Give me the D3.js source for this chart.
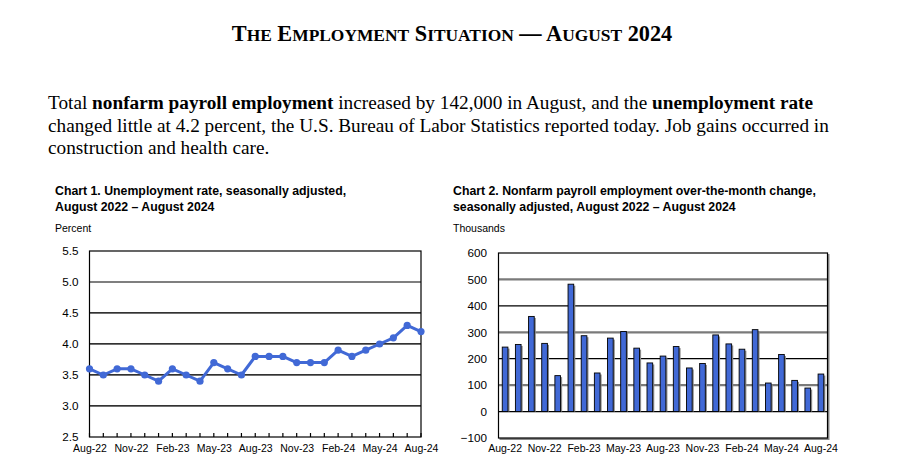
<!DOCTYPE html>
<html><head><meta charset="utf-8">
<script src="https://cdn.jsdelivr.net/npm/d3@7"></script>
<style>
html,body{margin:0;padding:0;background:#fff;}
svg{display:block;}
</style></head>
<body>
<svg id="c" width="905" height="467"></svg>
<script>
const months = ["Aug-22","Sep-22","Oct-22","Nov-22","Dec-22","Jan-23","Feb-23","Mar-23","Apr-23","May-23","Jun-23","Jul-23","Aug-23","Sep-23","Oct-23","Nov-23","Dec-23","Jan-24","Feb-24","Mar-24","Apr-24","May-24","Jun-24","Jul-24","Aug-24"];
const unemploymentRate = [3.6,3.5,3.6,3.6,3.5,3.4,3.6,3.5,3.4,3.7,3.6,3.5,3.8,3.8,3.8,3.7,3.7,3.7,3.9,3.8,3.9,4.0,4.1,4.3,4.2];
const payrollChange = [244,254,360,258,136,482,287,146,278,303,240,184,210,246,165,182,290,256,236,310,108,216,118,89,142];
const rateTicks = [2.5,3.0,3.5,4.0,4.5,5.0,5.5];
const payrollTicks = [-100,0,100,200,300,400,500,600];
const xTickLabels = ["Aug-22","Nov-22","Feb-23","May-23","Aug-23","Nov-23","Feb-24","May-24","Aug-24"];

const svg = d3.select("#c");
const blue = "#4169D6";
const serif = "'Liberation Serif','Times New Roman',serif";
const sans = "'Liberation Sans',Arial,sans-serif";

// Title (manual small caps)
const titleText = "The Employment Situation — August 2024";
const tt = svg.append("text").attr("x",452).attr("y",41).attr("text-anchor","middle")
  .style("font-family",serif).style("font-weight","bold").attr("fill","#000");
titleText.split(/(\s+)/).forEach(w=>{
  if(/^\s+$/.test(w)){ tt.append("tspan").style("font-size","22.3px").text(w); return; }
  const first = w[0], rest = w.slice(1);
  if(/[a-z]/.test(rest) || /^[A-Z]$/.test(first)){
    tt.append("tspan").style("font-size","22.3px").text(first);
    if(rest) tt.append("tspan").style("font-size","17.4px").text(rest.toUpperCase());
  } else {
    tt.append("tspan").style("font-size","22.3px").text(w);
  }
});

// Paragraph
const para = [
  [["Total ",false],["nonfarm payroll employment",true],[" increased by 142,000 in August, and the ",false],["unemployment rate",true]],
  [["changed little at 4.2 percent, the U.S. Bureau of Labor Statistics reported today. Job gains occurred in",false]],
  [["construction and health care.",false]]
];
para.forEach((line,i)=>{
  const t = svg.append("text").attr("x",48).attr("y",109+i*22.5)
    .style("font-family",serif).style("font-size","19.25px").attr("fill","#000");
  line.forEach(([s,b])=>t.append("tspan").style("font-weight",b?"bold":"normal").text(s));
});

function titleBlock(x, lines, unit){
  lines.forEach((l,i)=>svg.append("text").attr("x",x).attr("y",195+i*16)
    .style("font-family",sans).style("font-weight","bold").style("font-size","12.3px").text(l));
  svg.append("text").attr("x",x).attr("y",232).style("font-family",sans).style("font-size","10.5px").text(unit);
}
titleBlock(55,["Chart 1. Unemployment rate, seasonally adjusted,","August 2022 – August 2024"],"Percent");
titleBlock(453,["Chart 2. Nonfarm payroll employment over-the-month change,","seasonally adjusted, August 2022 – August 2024"],"Thousands");

// ---- Chart 1 ----
const L1=89.5, R1=421, T1=251, B1=437;
const x1 = d3.scalePoint().domain(months).range([L1,R1]);
const y1 = d3.scaleLinear().domain([2.5,5.5]).range([B1,T1]);
const g1 = svg.append("g");
rateTicks.filter(v=>v>2.5 && v<5.5).forEach(v=>{
  const black = (v===5.0);
  g1.append("line").attr("x1",L1).attr("x2",R1).attr("y1",y1(v)).attr("y2",y1(v))
    .attr("stroke",black?"#000":"#707070").attr("stroke-width",black?1.2:2);
  if(!black) g1.append("line").attr("x1",L1).attr("x2",R1).attr("y1",y1(v)-0.5).attr("y2",y1(v)-0.5)
    .attr("stroke","#222").attr("stroke-width",0.8);
});
g1.append("rect").attr("x",L1).attr("y",T1).attr("width",R1-L1).attr("height",B1-T1)
  .attr("fill","none").attr("stroke","#000").attr("stroke-width",1.2);
g1.selectAll(".tk").data(months).join("line").attr("x1",d=>x1(d)).attr("x2",d=>x1(d))
  .attr("y1",B1).attr("y2",B1-4).attr("stroke","#000").attr("stroke-width",1.2);
const ax1 = d3.axisLeft(y1).tickValues(rateTicks).tickFormat(d3.format(".1f")).tickSize(0).tickPadding(11);
const a1 = svg.append("g").attr("transform",`translate(${L1},0)`).call(ax1);
a1.select(".domain").remove();
a1.selectAll("text").style("font-family",sans).style("font-size","11.7px").attr("fill","#000");
const bx1 = d3.axisBottom(x1).tickValues(xTickLabels).tickSize(0).tickPadding(8);
const b1 = svg.append("g").attr("transform",`translate(0,${B1})`).call(bx1);
b1.select(".domain").remove();
b1.selectAll("text").style("font-family",sans).style("font-size","10.5px").attr("fill","#000");

g1.append("path").datum(unemploymentRate)
  .attr("d",d3.line().x((d,i)=>x1(months[i])).y(d=>y1(d)))
  .attr("fill","none").attr("stroke",blue).attr("stroke-width",3).attr("stroke-linejoin","round");
g1.selectAll(".pt").data(unemploymentRate).join("circle")
  .attr("cx",(d,i)=>x1(months[i])).attr("cy",d=>y1(d)).attr("r",3.6).attr("fill",blue);

// ---- Chart 2 ----
const L2=498.5, R2=827.5, T2=253, B2=438;
const x2 = d3.scaleBand().domain(months).range([L2,R2]).paddingInner(0.57).paddingOuter(0.285);
const y2 = d3.scaleLinear().domain([-100,600]).range([B2,T2]);
const g2 = svg.append("g");
payrollTicks.filter(v=>v>-100 && v<600).forEach(v=>{
  const black = (v%200===0);
  g2.append("line").attr("x1",L2).attr("x2",R2).attr("y1",y2(v)).attr("y2",y2(v))
    .attr("stroke",black?"#000":"#7a7a7a").attr("stroke-width",black?1.2:2.2);
});
g2.append("path").attr("d",`M${R2+1},${T2+1}V${B2+1}H${L2+1}`).attr("fill","none").attr("stroke","#8a8a8a").attr("stroke-width",2);
g2.append("rect").attr("x",L2).attr("y",T2).attr("width",R2-L2).attr("height",B2-T2)
  .attr("fill","none").attr("stroke","#000").attr("stroke-width",1.2);
g2.selectAll(".sh").data(payrollChange).join("rect")
  .attr("x",(d,i)=>x2(months[i])+x2.bandwidth()).attr("y",d=>y2(d)+1.5)
  .attr("width",1.6).attr("height",d=>y2(0)-y2(d)-1.5).attr("fill","#8a8a8a");
g2.selectAll(".bar").data(payrollChange).join("rect")
  .attr("x",(d,i)=>x2(months[i])).attr("y",d=>y2(d))
  .attr("width",x2.bandwidth()).attr("height",d=>y2(0)-y2(d))
  .attr("fill",blue).attr("stroke","#000").attr("stroke-width",0.9);
const ax2 = d3.axisLeft(y2).tickValues(payrollTicks).tickSize(0).tickPadding(11.5);
const a2 = svg.append("g").attr("transform",`translate(${L2},0)`).call(ax2);
a2.select(".domain").remove();
a2.selectAll("text").style("font-family",sans).style("font-size","11.7px").attr("fill","#000");
const bx2 = d3.axisBottom(x2).tickValues(xTickLabels).tickSize(0).tickPadding(7);
const b2 = svg.append("g").attr("transform",`translate(0,${B2})`).call(bx2);
b2.select(".domain").remove();
b2.selectAll("text").style("font-family",sans).style("font-size","10.5px").attr("fill","#000");
</script>
</body></html>
